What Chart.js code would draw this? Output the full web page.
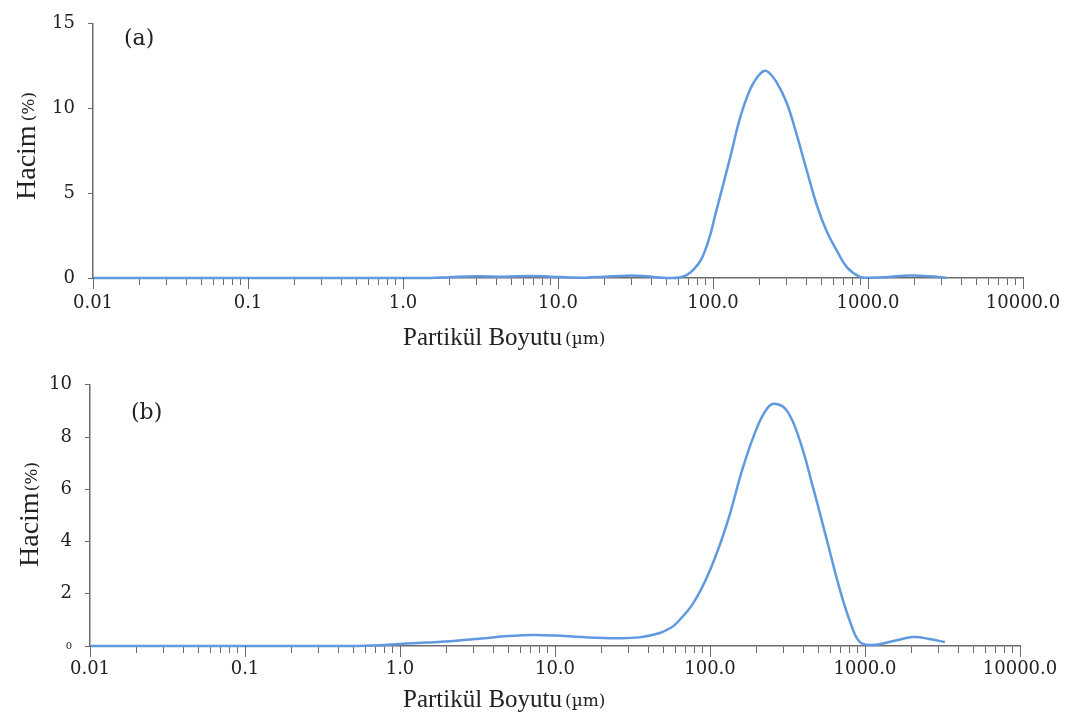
<!DOCTYPE html>
<html>
<head>
<meta charset="utf-8">
<script src="https://cdn.jsdelivr.net/npm/chart.js@4.4.1/dist/chart.umd.min.js"></script>
<style>
  body { margin: 0; background: #fff; }
  canvas { position: absolute; left: 0; }
</style>
</head>
<body>
<canvas id="chartA" width="1081" height="361" style="top:0"></canvas>
<canvas id="chartB" width="1081" height="361" style="top:361px"></canvas>
<script>
// particle size (µm) and volume (%)
const sizesA = [0.01, 0.1, 1, 1.5, 2, 3, 4.5, 6.5, 9, 12, 15, 20, 28, 35, 45, 55, 61, 67, 74, 84, 95, 102, 111, 129, 149, 173, 201, 223, 259, 300, 348, 404, 469, 543, 631, 732, 888, 1000, 1300, 1900, 2500, 3200];
const volumeA = [0, 0, 0, 0, 0.05, 0.1, 0.08, 0.12, 0.08, 0.03, 0.02, 0.08, 0.14, 0.12, 0.03, 0, 0.03, 0.15, 0.45, 1.1, 2.4, 3.5, 4.8, 7.1, 9.4, 11.1, 12.05, 12.2, 11.5, 10.3, 8.4, 6.3, 4.26, 2.73, 1.6, 0.63, 0.06, 0.02, 0.05, 0.15, 0.1, 0.02];

const sizesB = [0.01, 0.1, 0.5, 0.74, 1, 1.5, 2.3, 3.5, 5, 7.2, 10, 15, 25, 35, 47.5, 56, 61, 78, 100, 129, 163, 201, 233, 262, 314, 380, 462, 568, 690, 824, 929, 1122, 1500, 2042, 2600, 3280];
const volumeB = [0, 0, 0, 0.03, 0.08, 0.13, 0.2, 0.3, 0.38, 0.42, 0.4, 0.34, 0.3, 0.33, 0.5, 0.7, 0.88, 1.64, 2.9, 4.7, 6.83, 8.36, 9.08, 9.27, 9.0, 7.86, 6.07, 4.05, 2.14, 0.73, 0.15, 0.04, 0.18, 0.34, 0.27, 0.15];

const decades = [0.01, 0.1, 1, 10, 100, 1000, 10000];
const decadeLabels = ['0.01', '0.1', '1.0', '10.0', '100.0', '1000.0', '10000.0'];

const lineColor = '#5f9ae0';
const axisColor = '#6b6b6b';
const textColor = '#222';

function decadeIndex(v) {
  return decades.findIndex(d => Math.abs(Math.log10(d) - Math.log10(v)) < 1e-6);
}

// ticks at 1..9 x 10^n, labels only on decades
function logTicks(scale) {
  const out = [];
  for (let i = 0; i < decades.length; i++) {
    out.push({ value: decades[i], major: true });
    if (i < decades.length - 1) {
      for (let m = 2; m <= 9; m++) out.push({ value: decades[i] * m, major: false });
    }
  }
  scale.ticks = out;
}

// axis titles, panel letter and longer decade ticks
const axisText = {
  id: 'axisText',
  afterDraw(chart, args, opts) {
    const ctx = chart.ctx;
    const xs = chart.scales.x;
    const area = chart.chartArea;
    ctx.save();
    ctx.strokeStyle = axisColor;
    ctx.lineWidth = 1;
    decades.forEach(d => {
      const px = Math.round(xs.getPixelForValue(d)) + 0.5;
      ctx.beginPath();
      ctx.moveTo(px, area.bottom);
      ctx.lineTo(px, area.bottom + 11);
      ctx.stroke();
    });

    ctx.fillStyle = textColor;
    ctx.textBaseline = 'alphabetic';
    ctx.textAlign = 'left';

    // x title
    ctx.font = '25px "Liberation Serif"';
    ctx.fillText('Partikül Boyutu', opts.xTitle[0], opts.xTitle[1]);
    const w = ctx.measureText('Partikül Boyutu').width;
    ctx.font = '17px "DejaVu Serif"';
    ctx.fillText('(µm)', opts.xTitle[0] + w + 3, opts.xTitle[1] - 1);

    // y title
    ctx.save();
    ctx.translate(opts.yTitle[0], opts.yTitle[1]);
    ctx.rotate(-Math.PI / 2);
    ctx.font = '28px "Liberation Serif"';
    ctx.fillText('Hacim', 0, 0);
    const hw = ctx.measureText('Hacim').width;
    ctx.font = '17px "DejaVu Serif"';
    ctx.fillText('(%)', hw + opts.yGap, -1);
    ctx.restore();

    // panel letter
    ctx.font = '22px "DejaVu Serif"';
    ctx.fillText(opts.letter, opts.letterPos[0], opts.letterPos[1]);
    ctx.restore();
  }
};

function makeChart(id, sizes, volume, c) {
  return new Chart(document.getElementById(id), {
    type: 'line',
    data: {
      datasets: [{
        data: sizes.map((s, i) => ({ x: s, y: volume[i] })),
        borderColor: lineColor,
        borderWidth: 2.5,
        pointRadius: 0,
        fill: false,
        tension: 0.4,
        clip: false
      }]
    },
    options: {
      responsive: false,
      animation: false,
      devicePixelRatio: 1,
      layout: { padding: { top: c.top, right: c.right, left: 0, bottom: 0 } },
      plugins: {
        legend: { display: false },
        tooltip: { enabled: false },
        axisText: c.text
      },
      scales: {
        x: {
          type: 'logarithmic',
          min: 0.01,
          max: 10000,
          afterBuildTicks: logTicks,
          afterFit: s => { s.height = c.xHeight; },
          border: { color: axisColor, width: 1.5 },
          grid: { drawOnChartArea: false, drawTicks: true, tickLength: 7, tickColor: axisColor },
          ticks: {
            autoSkip: false,
            maxRotation: 0,
            padding: c.xPad,
            color: textColor,
            font: { family: 'DejaVu Serif', size: 18 },
            callback: v => {
              const i = decadeIndex(v);
              return i >= 0 ? decadeLabels[i] : '';
            }
          }
        },
        y: {
          min: 0,
          max: c.yMax,
          afterFit: s => { s.width = c.left; },
          border: { color: axisColor, width: 1.5 },
          grid: { drawOnChartArea: false, tickLength: 5, tickColor: axisColor },
          ticks: {
            stepSize: c.step,
            padding: 13,
            color: textColor,
            font: ctx => ({ family: 'DejaVu Serif', size: (c.smallZero && ctx.tick && ctx.tick.value === 0) ? 10 : 18 })
          }
        }
      }
    },
    plugins: [axisText]
  });
}

makeChart('chartA', sizesA, volumeA, {
  top: 15, right: 58, left: 93, xHeight: 83, xPad: 8, yMax: 15, step: 5, smallZero: false,
  text: { xTitle: [403, 345], yTitle: [35, 200], yGap: 4, letter: '(a)', letterPos: [124, 45] }
});

makeChart('chartB', sizesB, volumeB, {
  top: 23, right: 61, left: 90, xHeight: 76, xPad: 6, yMax: 10, step: 2, smallZero: true,
  text: { xTitle: [403, 346], yTitle: [38, 206], yGap: 1, letter: '(b)', letterPos: [131, 58] }
});
</script>
</body>
</html>
